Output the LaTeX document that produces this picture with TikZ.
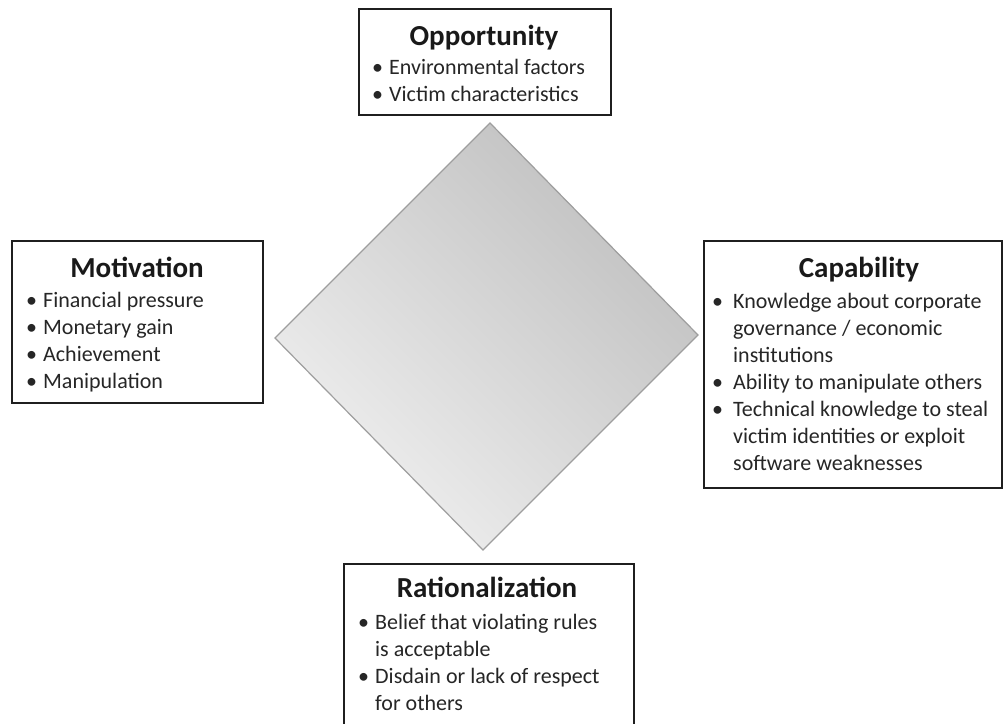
\documentclass[tikz,border=0pt]{standalone}
\usepackage{fontspec}
\setmainfont{Carlito}
% bullet mark of a list row
\newcommand\bm[1][17pt]{\makebox[#1][l]{•}}
\begin{document}
\begin{tikzpicture}[x=1pt,y=-1pt,
  box/.style={draw=black!88, line width=2.2pt, fill=white, inner sep=0pt, anchor=north west},
  ttl/.style={font=\fontsize{29}{34}\selectfont\bfseries, anchor=base, inner sep=0pt, text=black!90},
  body/.style={font=\fontsize{22}{27}\selectfont, anchor=base west, inner sep=0pt, text=black!85},
]
\useasboundingbox (0,0) rectangle (1003,723);
\clip (0,0) rectangle (1003,723);
\fill[white] (0,0) rectangle (1003,723);

% central diamond
\shade[draw=black!38, line width=1.2pt, bottom color=black!6, top color=black!25, shading angle=-45]
  (490,123) -- (698,335) -- (483,550) -- (275,338) -- cycle;

% Opportunity
\node[box, minimum width=252pt, minimum height=106pt] (oppbox) at (358,8) {};
\node[ttl] (opptitle) at (484,45) {Opportunity};
\node[body] (opptext) at (372,74) {\begin{tabular}[t]{@{}l@{}l@{}}
  \bm & Environmental factors\\
  \bm & Victim characteristics
\end{tabular}};

% Motivation
\node[box, minimum width=251pt, minimum height=162pt] (motbox) at (11,240) {};
\node[ttl] (mottitle) at (137,277) {Motivation};
\node[body] (mottext) at (26,307) {\begin{tabular}[t]{@{}l@{}l@{}}
  \bm & Financial pressure\\
  \bm & Monetary gain\\
  \bm & Achievement\\
  \bm & Manipulation
\end{tabular}};

% Capability
\node[box, minimum width=298pt, minimum height=247pt] (capbox) at (703,240) {};
\node[ttl] (captitle) at (859,277) {Capability};
\node[body] (captext) at (712,308) {\begin{tabular}[t]{@{}l@{}l@{}}
  \bm[21pt] & Knowledge about corporate\\
            & governance / economic\\
            & institutions\\
  \bm[21pt] & Ability to manipulate others\\
  \bm[21pt] & Technical knowledge to steal\\
            & victim identities or exploit\\
            & software weaknesses
\end{tabular}};

% Rationalization
\node[box, minimum width=290pt, minimum height=180pt] (ratbox) at (343,563) {};
\node[ttl] (rattitle) at (487,597) {Rationalization};
\node[body] (rattext) at (358,629) {\begin{tabular}[t]{@{}l@{}l@{}}
  \bm & Belief that violating rules\\
      & is acceptable\\
  \bm & Disdain or lack of respect\\
      & for others
\end{tabular}};
\end{tikzpicture}
\end{document}
